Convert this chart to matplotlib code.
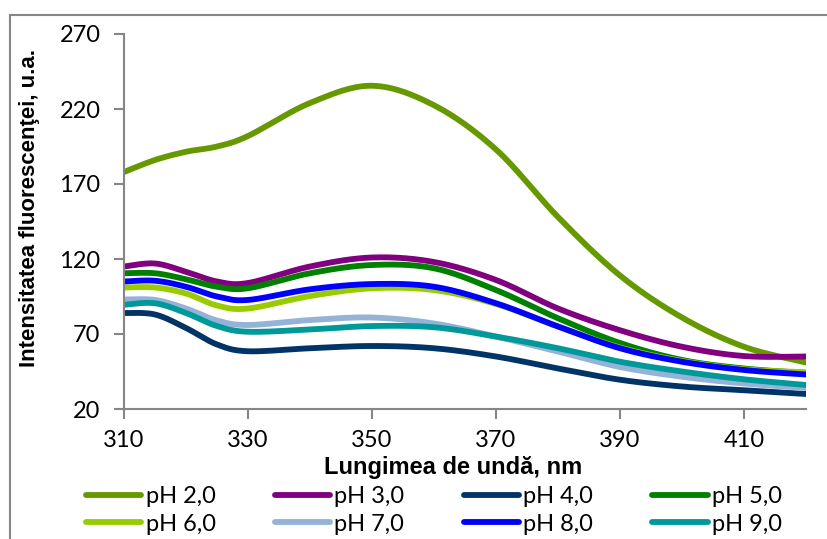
import numpy as np
import matplotlib
matplotlib.use("Agg")
import matplotlib.pyplot as plt
from matplotlib.patches import Rectangle

# lungimi de unda (nm)
wavelength = [310, 315, 320, 325, 330, 340, 350, 360, 370, 380, 390, 400, 410, 420]

ph_2 = [178, 186, 191.5, 195, 202, 224, 235.5, 222.5, 193, 148, 109, 81, 61.5, 51]
ph_3 = [115, 117, 111.5, 105, 104, 115, 121, 118, 106, 87, 72.5, 61.5, 55.3, 55]
ph_4 = [84, 83, 74, 63, 58.5, 60.5, 62, 60.5, 55, 47, 39.5, 35, 32.5, 30]
ph_5 = [110.5, 110.5, 106.5, 101.5, 100.5, 110.5, 116, 113.8, 99.3, 80.5, 64, 52.7, 47, 44]
ph_6 = [101, 101, 97, 89, 87, 95.3, 100.5, 99.3, 90, 75, 61, 52, 46.5, 44.5]
ph_7 = [93, 92.7, 87, 79, 76, 79.3, 81, 77, 68.3, 58.3, 48, 41.5, 37, 34]
ph_8 = [105, 105.5, 101.5, 95, 92.7, 99.8, 103.3, 101.5, 90.5, 75, 60.5, 51.5, 46, 43]
ph_9 = [89.5, 90.5, 84, 75.3, 71.5, 73, 75.3, 74.5, 68.3, 60.5, 51.5, 45, 39.8, 36]

labels = ["pH 2,0", "pH 3,0", "pH 4,0", "pH 5,0", "pH 6,0", "pH 7,0", "pH 8,0", "pH 9,0"]
colors = ["#669900", "#800080", "#003366", "#008000",
          "#99CC00", "#95B3D7", "#0000FF", "#009999"]


def smooth(x, y, n=30):
    # curba neteda prin puncte (Catmull-Rom, ca in Excel)
    x = np.asarray(x, float)
    y = np.asarray(y, float)
    px = np.concatenate([[x[0]], x, [x[-1]]])
    py = np.concatenate([[y[0]], y, [y[-1]]])
    xs, ys = [], []
    t = np.linspace(0, 1, n)
    for i in range(1, len(px) - 2):
        p0, p1, p2, p3 = px[i - 1], px[i], px[i + 1], px[i + 2]
        q0, q1, q2, q3 = py[i - 1], py[i], py[i + 1], py[i + 2]
        c1x, c1y = p1 + (p2 - p0) / 6, q1 + (q2 - q0) / 6
        c2x, c2y = p2 - (p3 - p1) / 6, q2 - (q3 - q1) / 6
        bx = (1 - t) ** 3 * p1 + 3 * (1 - t) ** 2 * t * c1x + 3 * (1 - t) * t ** 2 * c2x + t ** 3 * p2
        by = (1 - t) ** 3 * q1 + 3 * (1 - t) ** 2 * t * c1y + 3 * (1 - t) * t ** 2 * c2y + t ** 3 * q2
        xs.append(bx)
        ys.append(by)
    return np.concatenate(xs), np.concatenate(ys)


plt.rcParams["font.family"] = ["Lato", "DejaVu Sans"]

fig = plt.figure(figsize=(8.28, 5.39), dpi=100)
ax = fig.add_axes([124 / 828, 1 - 409 / 539, 682 / 828, 375 / 539])

series = [ph_2, ph_3, ph_4, ph_5, ph_6, ph_7, ph_8, ph_9]
lines = []
for vals, lab, col in zip(series, labels, colors):
    sx, sy = smooth(wavelength, vals)
    ln, = ax.plot(sx, sy, color=col, lw=4.2, label=lab, solid_capstyle="round")
    lines.append(ln)

ax.set_xlim(310, 420)
ax.set_ylim(20, 270)
ax.set_xticks(np.arange(310, 411, 20))
ax.set_yticks(np.arange(20, 271, 50))

gray = "#868686"
for s in ["top", "right"]:
    ax.spines[s].set_visible(False)
for s in ["left", "bottom"]:
    ax.spines[s].set_color(gray)
    ax.spines[s].set_linewidth(1.5)
ax.tick_params(axis="both", direction="out", length=7, width=1.5, color=gray,
               labelsize=17, labelcolor="black")
ax.tick_params(axis="y", pad=10)
ax.tick_params(axis="x", pad=8)

ax.set_xlabel("Lungimea de undă, nm", fontsize=17, fontweight="bold",
              family="Liberation Sans")
ax.xaxis.set_label_coords(0.482, -0.155)
ax.xaxis.label.set_va("center")
ax.set_ylabel("Intensitatea fluorescenţei, u.a.", fontsize=16, fontweight="bold",
              family="Liberation Sans")
ax.yaxis.set_label_coords(-0.138, 0.537)
ax.yaxis.label.set_va("center")

# legenda pe randuri: 4 coloane
order = [0, 4, 1, 5, 2, 6, 3, 7]
fig.legend([lines[i] for i in order], [labels[i] for i in order],
           loc="upper left", bbox_to_anchor=(86 / 828, 1 - 486 / 539), ncol=4,
           frameon=False, fontsize=17, handlelength=2.35, handletextpad=0.18,
           columnspacing=2.5, labelspacing=0.28, borderaxespad=0, borderpad=0)

# chenarul zonei graficului
fig.patches.append(Rectangle((10 / 828, -0.5), 2, 1.5 - 15 / 539,
                             transform=fig.transFigure, fill=False,
                             edgecolor=gray, lw=1.5))

plt.savefig("out.png", dpi=100)
